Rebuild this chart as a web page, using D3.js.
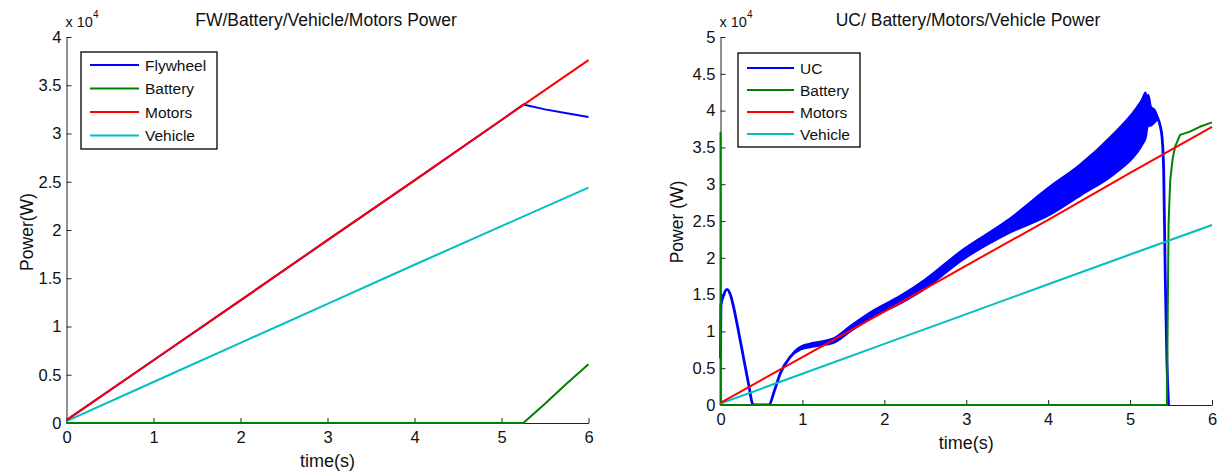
<!DOCTYPE html>
<html>
<head>
<meta charset="utf-8">
<script src="https://cdn.jsdelivr.net/npm/d3@7"></script>
<style>
  body { margin: 0; background: #fff; }
  svg { display: block; font-family: "Liberation Sans", Arial, sans-serif; }
</style>
</head>
<body>
<svg id="chart" width="1225" height="471"></svg>
<script>
// ---------- Data ----------
const timeTicks = [0, 1, 2, 3, 4, 5, 6];
const leftPowerTicks = [0, 5000, 10000, 15000, 20000, 25000, 30000, 35000, 40000];
const rightPowerTicks = [0, 5000, 10000, 15000, 20000, 25000, 30000, 35000, 40000, 45000, 50000];

const leftTitle = "FW/Battery/Vehicle/Motors Power";
const rightTitle = "UC/ Battery/Motors/Vehicle Power";
const leftSeriesNames = ["Flywheel", "Battery", "Motors", "Vehicle"];
const rightSeriesNames = ["UC", "Battery", "Motors", "Vehicle"];

// Left chart (flywheel system)
const leftFlywheelTime  = [0, 1, 2, 3, 4, 5, 5.25, 5.5, 5.75, 6];
const leftFlywheelPower = [300, 6500, 12700, 18950, 25150, 31400, 33000, 32500, 32100, 31700];
const leftBatteryTime   = [0, 5.25, 5.5, 5.75, 6];
const leftBatteryPower  = [0, 0, 2000, 4100, 6100];
const leftMotorsTime    = [0, 1, 2, 3, 4, 5, 6];
const leftMotorsPower   = [300, 6500, 12700, 18950, 25150, 31400, 37600];
const leftVehicleTime   = [0, 1, 2, 3, 4, 5, 6];
const leftVehiclePower  = [200, 4250, 8300, 12350, 16400, 20400, 24400];

// Right chart (ultracapacitor system): UC drawn as its oscillation envelope
const ucTime = [0, 0.005, 0.04, 0.08, 0.12, 0.16, 0.22, 0.28, 0.34, 0.40, 0.59, 0.66, 0.73, 0.85, 0.98, 1.14, 1.38, 1.59, 1.87, 2.2, 2.5, 2.93, 3.5, 4.02, 4.39, 4.8, 5.08, 5.15, 5.19, 5.2, 5.22, 5.25, 5.3, 5.33, 5.37, 5.39, 5.41, 5.43, 5.45, 5.47];
const ucLow  = [6500, 13500, 15000, 15700, 15000, 13300, 10000, 6500, 3000, 0, 0, 2000, 4300, 6500, 7600, 8000, 8500, 10100, 12100, 13900, 15900, 19600, 23300, 25900, 28500, 31400, 34300, 35500, 36500, 37300, 38000, 38000, 38500, 38800, 37800, 36400, 31900, 17000, 5700, 0];
const ucHigh = [6500, 13500, 15000, 15700, 15000, 13300, 10000, 6500, 3000, 0, 0, 2000, 4300, 6500, 7900, 8400, 9000, 10700, 12800, 14800, 17000, 20800, 25000, 29600, 32600, 36800, 40300, 41500, 42400, 40500, 42100, 40500, 40000, 39200, 37800, 36400, 31900, 17000, 5700, 0];
const rightBatteryTime  = [0, 0, 0.005, 5.37, 5.45, 5.46, 5.47, 5.49, 5.52, 5.55, 5.61, 5.73, 5.85, 6];
const rightBatteryPower = [0, 37000, 0, 0, 0, 12900, 24700, 30500, 33500, 35100, 36700, 37150, 37800, 38400];
const rightMotorsTime   = [0, 1, 2, 3, 4, 5, 6];
const rightMotorsPower  = [300, 6500, 12700, 18950, 25150, 31550, 37800];
const rightVehicleTime  = [0, 1, 2, 3, 4, 5, 6];
const rightVehiclePower = [200, 4250, 8300, 12350, 16400, 20450, 24450];

// ---------- Styling ----------
const colors = { blue: "#0000ff", green: "#008000", red: "#ff0000", cyan: "#00bfbf" };
const svg = d3.select("#chart");
svg.append("rect").attr("width", 1225).attr("height", 471).attr("fill", "#fff");

const zip = (t, p) => t.map((d, i) => ({ t: d, p: p[i] }));

function drawPanel(cfg) {
  const x = d3.scaleLinear().domain([0, 6]).range(cfg.xRange);
  const y = d3.scaleLinear().domain(cfg.yDomain).range(cfg.yRange);
  const g = svg.append("g");

  const clipId = "clip" + cfg.id;
  svg.append("clipPath").attr("id", clipId).append("rect")
    .attr("x", cfg.xRange[0] - 1.5).attr("y", cfg.yRange[1] - 2)
    .attr("width", cfg.xRange[1] - cfg.xRange[0] + 3.5)
    .attr("height", cfg.yRange[0] - cfg.yRange[1] + 3);

  const xAxis = d3.axisBottom(x).tickValues(timeTicks).tickSizeInner(-5).tickSizeOuter(0).tickPadding(8)
    .tickFormat(d3.format("d"));
  const yAxis = d3.axisLeft(y).tickValues(cfg.yTicks).tickSizeInner(-5).tickSizeOuter(0).tickPadding(5)
    .tickFormat(d => String(d / 1e4));

  const gx = g.append("g").attr("transform", `translate(0,${cfg.yRange[0]})`).call(xAxis);
  const gy = g.append("g").attr("transform", `translate(${cfg.xRange[0]},0)`).call(yAxis);
  [gx, gy].forEach(a => {
    a.selectAll("text").attr("font-size", 16.5).attr("fill", "#111").attr("font-family", "Liberation Sans, Arial");
    a.selectAll("line").attr("stroke", "#222");
    a.select(".domain").attr("stroke", "#222");
  });

  const plot = g.append("g").attr("clip-path", `url(#${clipId})`);
  const line = d3.line().x(d => x(d.t)).y(d => y(d.p));

  cfg.draw(plot, x, y, line);

  const ex = g.append("text").attr("x", cfg.xRange[0] - 1).attr("y", cfg.yRange[1] - 10)
    .attr("font-size", 14.5).attr("fill", "#111");
  ex.append("tspan").text("x 10");
  ex.append("tspan").attr("dy", -9).attr("font-size", 10).text("4");

  g.append("text").attr("x", cfg.titleX).attr("y", 26).attr("text-anchor", "middle")
    .attr("font-size", 17.5).attr("fill", "#111").text(cfg.title);
  g.append("text").attr("x", (cfg.xRange[0] + cfg.xRange[1]) / 2).attr("y", cfg.yRange[0] + 44)
    .attr("text-anchor", "middle").attr("font-size", 18).attr("fill", "#111").text("time(s)");
  g.append("text").attr("transform", `translate(${cfg.yLabelX},${cfg.yLabelY}) rotate(-90)`)
    .attr("text-anchor", "middle").attr("font-size", 17.5).attr("fill", "#111").text(cfg.yLabel);

  const L = cfg.legend;
  const lg = g.append("g");
  lg.append("rect").attr("x", L.x).attr("y", L.y).attr("width", L.w).attr("height", L.h)
    .attr("fill", "#fff").attr("stroke", "#000").attr("stroke-width", 1.3);
  L.names.forEach((n, i) => {
    const yy = L.y + L.first + i * L.step;
    lg.append("line").attr("x1", L.x + L.lx1).attr("x2", L.x + L.lx2).attr("y1", yy).attr("y2", yy)
      .attr("stroke", L.colors[i]).attr("stroke-width", 2);
    lg.append("text").attr("x", L.x + L.tx).attr("y", yy + 5.5).attr("font-size", 15.5)
      .attr("fill", "#111").text(n);
  });
}

drawPanel({
  id: "L",
  xRange: [66.5, 588.5], yRange: [423, 37], yDomain: [0, 40000], yTicks: leftPowerTicks,
  title: leftTitle, titleX: 326, yLabel: "Power(W)", yLabelX: 33, yLabelY: 232,
  legend: { x: 81, y: 52, w: 136, h: 97, first: 13, step: 23.5, lx1: 9, lx2: 58, tx: 64,
            names: leftSeriesNames, colors: [colors.blue, colors.green, colors.red, colors.cyan] },
  draw(plot, x, y, line) {
    const common = s => s.attr("fill", "none").attr("stroke-width", 2).attr("stroke-linejoin", "round");
    plot.append("path").datum(zip(leftVehicleTime, leftVehiclePower)).attr("d", line).attr("stroke", colors.cyan).call(common);
    plot.append("path").datum(zip(leftFlywheelTime, leftFlywheelPower)).attr("d", line).attr("stroke", colors.blue).call(common);
    plot.append("path").datum(zip(leftMotorsTime, leftMotorsPower)).attr("d", line).attr("stroke", colors.red).call(common);
    plot.append("path").datum(zip(leftBatteryTime, leftBatteryPower)).attr("d", line).attr("stroke", colors.green).call(common);
  }
});

drawPanel({
  id: "R",
  xRange: [720.5, 1212], yRange: [405, 37], yDomain: [0, 50000], yTicks: rightPowerTicks,
  title: rightTitle, titleX: 968, yLabel: "Power (W)", yLabelX: 683, yLabelY: 222,
  legend: { x: 738, y: 53, w: 122, h: 94, first: 15, step: 22, lx1: 9, lx2: 56, tx: 62,
            names: rightSeriesNames, colors: [colors.blue, colors.green, colors.red, colors.cyan] },
  draw(plot, x, y, line) {
    const common = s => s.attr("fill", "none").attr("stroke-width", 2).attr("stroke-linejoin", "round");
    const ucData = ucTime.map((t, i) => ({ t, lo: ucLow[i], hi: ucHigh[i] }));
    const area = d3.area().x(d => x(d.t)).y0(d => y(d.lo)).y1(d => y(d.hi)).curve(d3.curveMonotoneX);
    plot.append("path").datum(ucData).attr("d", area)
      .attr("fill", colors.blue).attr("stroke", colors.blue).attr("stroke-width", 2.8).attr("stroke-linejoin", "round");
    plot.append("path").datum(zip(rightBatteryTime, rightBatteryPower)).attr("d", line).attr("stroke", colors.green).call(common);
    plot.append("path").datum(zip(rightVehicleTime, rightVehiclePower)).attr("d", line).attr("stroke", colors.cyan).call(common);
    plot.append("path").datum(zip(rightMotorsTime, rightMotorsPower)).attr("d", line).attr("stroke", colors.red).call(common);
  }
});
</script>
</body>
</html>
